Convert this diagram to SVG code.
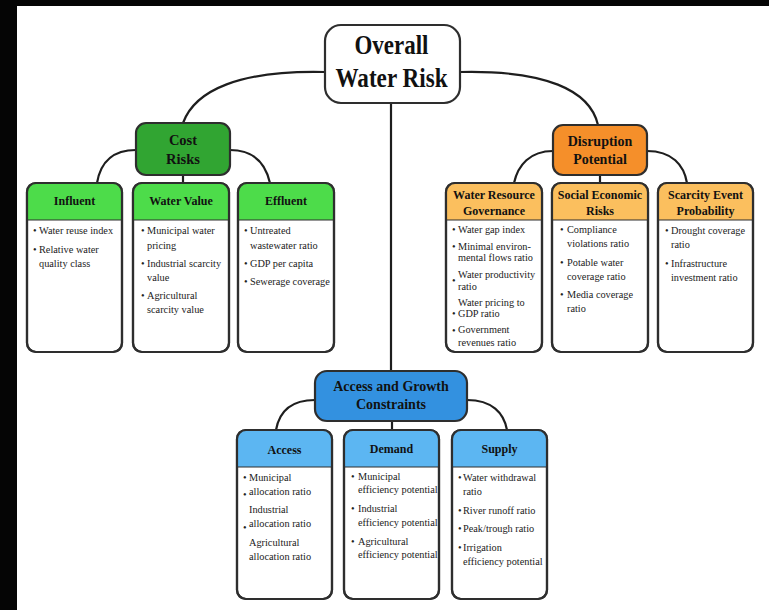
<svg xmlns="http://www.w3.org/2000/svg" width="769" height="610" viewBox="0 0 769 610">
<style>
.box{fill:#fff;stroke:#2e2e2e;stroke-width:2.2}
.out{fill:none;stroke:#2e2e2e;stroke-width:2.2}
.sep{stroke:#2e2e2e;stroke-width:1.2}
.con{fill:none;stroke:#1e1e1e;stroke-width:2.2}
.t{font-weight:bold;fill:#111;text-anchor:middle}
.i{font-size:10.3px;fill:#222}
.g1{fill:#31a532}.g2{fill:#4ddc4a}.o1{fill:#f58f2a}.o2{fill:#fbbf5e}.b1{fill:#3391e0}.b2{fill:#5cb6f2}
</style>
<rect x="0" y="0" width="769" height="610" fill="#fff"/>
<rect x="0" y="0" width="769" height="6" fill="#050505"/>
<rect x="0" y="0" width="17" height="610" fill="#050505"/>

<g id="connectors">
<path class="con" d="M325,72 C240,70 195,90 183,123"/>
<path class="con" d="M460,72 C545,70 590,90 598,125"/>
<path class="con" d="M391,103 V371"/>
<path class="con" d="M136,150 C110,150 100,165 97,183"/>
<path class="con" d="M230,150 C255,150 266,165 270,183"/>
<path class="con" d="M183,175 V183"/>
<path class="con" d="M553,151 C530,151 518,165 514,183"/>
<path class="con" d="M647,151 C672,151 684,165 687,183"/>
<path class="con" d="M600,175 V183"/>
<path class="con" d="M315,400 C290,400 279,413 276,430"/>
<path class="con" d="M467,400 C492,400 504,413 507,430"/>
<path class="con" d="M392,421 V430"/>
</g>

<g font-family="Liberation Serif, Times New Roman, serif">
<g id="overall">
<rect class="box" x="325" y="25" width="135" height="78" rx="16"/>
<text class="t" x="391.5" y="54" font-size="27" textLength="74" lengthAdjust="spacingAndGlyphs">Overall</text>
<text class="t" x="391.5" y="87" font-size="27" textLength="112" lengthAdjust="spacingAndGlyphs">Water Risk</text>
</g>

<g id="cost-risks">
<rect class="box g1" x="136" y="123" width="94" height="52" rx="10"/>
<text class="t" x="183" y="145" font-size="14.5">Cost</text>
<text class="t" x="183" y="164" font-size="14.5">Risks</text>
</g>

<g id="disruption">
<rect class="box o1" x="553" y="125" width="94" height="50" rx="10"/>
<text class="t" x="600" y="146" font-size="14">Disruption</text>
<text class="t" x="600" y="164" font-size="14">Potential</text>
</g>

<g id="access-growth">
<rect class="box b1" x="315" y="371" width="152" height="50" rx="12"/>
<text class="t" x="391" y="391" font-size="14">Access and Growth</text>
<text class="t" x="391" y="409" font-size="14">Constraints</text>
</g>

<g id="influent">
<rect class="box" x="27" y="183" width="95" height="169" rx="9"/>
<path class="g2" d="M27,220 V192 Q27,183 36,183 H113 Q122,183 122,192 V220 Z"/>
<line class="sep" x1="27" y1="220" x2="122" y2="220"/>
<rect class="out" x="27" y="183" width="95" height="169" rx="9"/>
<text class="t" x="74.5" y="205" font-size="12">Influent</text>
<text class="i"><tspan x="33" y="234">•</tspan><tspan x="39" y="234">Water reuse index</tspan><tspan x="33" y="253">•</tspan><tspan x="39" y="253">Relative water</tspan><tspan x="39" y="267">quality class</tspan></text>
</g>

<g id="water-value">
<rect class="box" x="133" y="183" width="96" height="169" rx="9"/>
<path class="g2" d="M133,220 V192 Q133,183 142,183 H220 Q229,183 229,192 V220 Z"/>
<line class="sep" x1="133" y1="220" x2="229" y2="220"/>
<rect class="out" x="133" y="183" width="96" height="169" rx="9"/>
<text class="t" x="181" y="205" font-size="12">Water Value</text>
<text class="i"><tspan x="141" y="234">•</tspan><tspan x="147" y="234">Municipal water</tspan><tspan x="147" y="249">pricing</tspan><tspan x="141" y="267">•</tspan><tspan x="147" y="267">Industrial scarcity</tspan><tspan x="147" y="281">value</tspan><tspan x="141" y="299">•</tspan><tspan x="147" y="299">Agricultural</tspan><tspan x="147" y="313">scarcity value</tspan></text>
</g>

<g id="effluent">
<rect class="box" x="238" y="183" width="96" height="169" rx="9"/>
<path class="g2" d="M238,220 V192 Q238,183 247,183 H325 Q334,183 334,192 V220 Z"/>
<line class="sep" x1="238" y1="220" x2="334" y2="220"/>
<rect class="out" x="238" y="183" width="96" height="169" rx="9"/>
<text class="t" x="286" y="205" font-size="12">Effluent</text>
<text class="i"><tspan x="244" y="234">•</tspan><tspan x="250" y="234">Untreated</tspan><tspan x="250" y="249">wastewater ratio</tspan><tspan x="244" y="267">•</tspan><tspan x="250" y="267">GDP per capita</tspan><tspan x="244" y="285">•</tspan><tspan x="250" y="285">Sewerage coverage</tspan></text>
</g>

<g id="water-resource-governance">
<rect class="box" x="446" y="183" width="96" height="169" rx="9"/>
<path class="o2" d="M446,220 V192 Q446,183 455,183 H533 Q542,183 542,192 V220 Z"/>
<line class="sep" x1="446" y1="220" x2="542" y2="220"/>
<rect class="out" x="446" y="183" width="96" height="169" rx="9"/>
<text class="t" x="494" y="199" font-size="12">Water Resource</text>
<text class="t" x="494" y="215" font-size="12">Governance</text>
<text class="i"><tspan x="452" y="233">•</tspan><tspan x="458" y="233">Water gap index</tspan><tspan x="452" y="250">•</tspan><tspan x="458" y="250">Minimal environ-</tspan><tspan x="458" y="261">mental flows ratio</tspan><tspan x="452" y="284">•</tspan><tspan x="458" y="278">Water productivity</tspan><tspan x="458" y="290">ratio</tspan><tspan x="458" y="306">Water pricing to</tspan><tspan x="452" y="317">•</tspan><tspan x="458" y="317">GDP ratio</tspan><tspan x="452" y="334">•</tspan><tspan x="458" y="333">Government</tspan><tspan x="458" y="346">revenues ratio</tspan></text>
</g>

<g id="social-economic-risks">
<rect class="box" x="552" y="183" width="96" height="169" rx="9"/>
<path class="o2" d="M552,220 V192 Q552,183 561,183 H639 Q648,183 648,192 V220 Z"/>
<line class="sep" x1="552" y1="220" x2="648" y2="220"/>
<rect class="out" x="552" y="183" width="96" height="169" rx="9"/>
<text class="t" x="600" y="199" font-size="12">Social Economic</text>
<text class="t" x="600" y="215" font-size="12">Risks</text>
<text class="i"><tspan x="560" y="233">•</tspan><tspan x="567" y="233">Compliance</tspan><tspan x="567" y="247">violations ratio</tspan><tspan x="560" y="266">•</tspan><tspan x="567" y="266">Potable water</tspan><tspan x="567" y="280">coverage ratio</tspan><tspan x="560" y="298">•</tspan><tspan x="567" y="298">Media coverage</tspan><tspan x="567" y="312">ratio</tspan></text>
</g>

<g id="scarcity-event-probability">
<rect class="box" x="658" y="183" width="95" height="169" rx="9"/>
<path class="o2" d="M658,220 V192 Q658,183 667,183 H744 Q753,183 753,192 V220 Z"/>
<line class="sep" x1="658" y1="220" x2="753" y2="220"/>
<rect class="out" x="658" y="183" width="95" height="169" rx="9"/>
<text class="t" x="705.5" y="199" font-size="12">Scarcity Event</text>
<text class="t" x="705.5" y="215" font-size="12">Probability</text>
<text class="i"><tspan x="665" y="234">•</tspan><tspan x="671" y="234">Drought coverage</tspan><tspan x="671" y="248">ratio</tspan><tspan x="665" y="267">•</tspan><tspan x="671" y="267">Infrastructure</tspan><tspan x="671" y="281">investment ratio</tspan></text>
</g>

<g id="access">
<rect class="box" x="237" y="430" width="95" height="169" rx="9"/>
<path class="b2" d="M237,467 V439 Q237,430 246,430 H323 Q332,430 332,439 V467 Z"/>
<line class="sep" x1="237" y1="467" x2="332" y2="467"/>
<rect class="out" x="237" y="430" width="95" height="169" rx="9"/>
<text class="t" x="284.5" y="454" font-size="12">Access</text>
<text class="i"><tspan x="243" y="481">•</tspan><tspan x="249" y="481">Municipal</tspan><tspan x="249" y="495">allocation ratio</tspan><tspan x="243" y="498">•</tspan><tspan x="249" y="513">Industrial</tspan><tspan x="249" y="527">allocation ratio</tspan><tspan x="243" y="531">•</tspan><tspan x="249" y="546">Agricultural</tspan><tspan x="249" y="560">allocation ratio</tspan></text>
</g>

<g id="demand">
<rect class="box" x="344" y="430" width="95" height="169" rx="9"/>
<path class="b2" d="M344,467 V439 Q344,430 353,430 H430 Q439,430 439,439 V467 Z"/>
<line class="sep" x1="344" y1="467" x2="439" y2="467"/>
<rect class="out" x="344" y="430" width="95" height="169" rx="9"/>
<text class="t" x="391.5" y="453" font-size="12">Demand</text>
<text class="i"><tspan x="351" y="480">•</tspan><tspan x="358" y="480">Municipal</tspan><tspan x="358" y="493">efficiency potential</tspan><tspan x="351" y="512">•</tspan><tspan x="358" y="512">Industrial</tspan><tspan x="358" y="526">efficiency potential</tspan><tspan x="351" y="545">•</tspan><tspan x="358" y="545">Agricultural</tspan><tspan x="358" y="558">efficiency potential</tspan></text>
</g>

<g id="supply">
<rect class="box" x="452" y="430" width="95" height="169" rx="9"/>
<path class="b2" d="M452,467 V439 Q452,430 461,430 H538 Q547,430 547,439 V467 Z"/>
<line class="sep" x1="452" y1="467" x2="547" y2="467"/>
<rect class="out" x="452" y="430" width="95" height="169" rx="9"/>
<text class="t" x="499.5" y="453" font-size="12">Supply</text>
<text class="i"><tspan x="458" y="481">•</tspan><tspan x="463" y="481">Water withdrawal</tspan><tspan x="463" y="495">ratio</tspan><tspan x="458" y="514">•</tspan><tspan x="463" y="514">River runoff ratio</tspan><tspan x="458" y="532">•</tspan><tspan x="463" y="532">Peak/trough ratio</tspan><tspan x="458" y="551">•</tspan><tspan x="463" y="551">Irrigation</tspan><tspan x="463" y="565">efficiency potential</tspan></text>
</g>
</g>
</svg>
